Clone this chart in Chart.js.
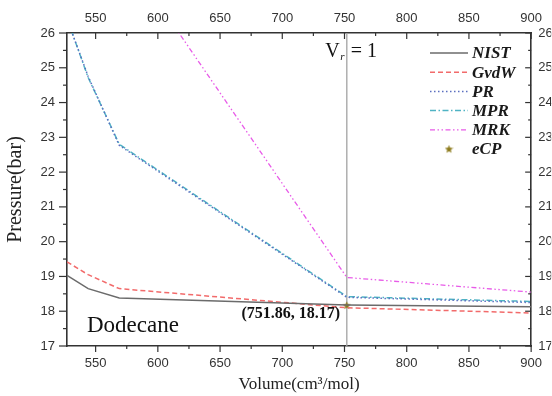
<!DOCTYPE html>
<html>
<head>
<meta charset="utf-8">
<script src="https://cdn.jsdelivr.net/npm/chart.js@4/dist/chart.umd.min.js"></script>
<style>
  html, body { margin: 0; padding: 0; background: #fff; }
  #wrap { width: 552px; height: 396px; position: relative; }
</style>
</head>
<body>
<div id="wrap"><canvas id="pvChart"></canvas></div>
<script>
// tick labels
const xTicks = [550, 600, 650, 700, 750, 800, 850, 900];
const yTicks = [17, 18, 19, 20, 21, 22, 23, 24, 25, 26];

// series (volume in cm3/mol, pressure in bar)
const nistV = [527, 544, 569, 751.86, 900];
const nistP = [19.03, 18.65, 18.38, 18.18, 18.13];
const gvdwV = [527, 544, 569, 751.86, 900];
const gvdwP = [19.42, 19.05, 18.65, 18.10, 17.95];
const prV = [527, 544, 569, 751.86, 900];
const prP = [26.4, 24.75, 22.77, 18.40, 18.25];
const mprV = [527, 544, 569, 751.86, 900];
const mprP = [26.42, 24.72, 22.80, 18.42, 18.28];
const mrkV = [569, 751.86, 900];
const mrkP = [28.5, 18.97, 18.55];
const ecpV = [751.86];
const ecpP = [18.17];
const vrOne = 751.86;

const pts = (v, p) => v.map((x, i) => ({ x: x, y: p[i] }));

// small filled star for the eCP marker
const starImg = document.createElement('canvas');
starImg.width = 9; starImg.height = 9;
(function () {
  const c = starImg.getContext('2d');
  c.fillStyle = '#8d7b1c';
  c.beginPath();
  for (let k = 0; k < 10; k++) {
    const r = k % 2 ? 1.9 : 4.4;
    const a = -Math.PI / 2 + k * Math.PI / 5;
    const px = 4.5 + r * Math.cos(a), py = 4.8 + r * Math.sin(a);
    k ? c.lineTo(px, py) : c.moveTo(px, py);
  }
  c.closePath();
  c.fill();
})();

const axisCol = '#333';
const tickFont = { family: 'Liberation Sans', size: 13 };

const tickMarks = {
  id: 'tickMarks',
  afterDraw(chart) {
    const { ctx, chartArea: a, scales } = chart;
    const mids = t => t.slice(0, -1).map((v, i) => (v + t[i + 1]) / 2);
    ctx.save();
    ctx.strokeStyle = axisCol;
    ctx.lineWidth = 1.2;
    const mark = (x1, y1, x2, y2) => { ctx.beginPath(); ctx.moveTo(x1, y1); ctx.lineTo(x2, y2); ctx.stroke(); };
    xTicks.forEach(v => {
      const x = scales.x.getPixelForValue(v);
      mark(x, a.bottom, x, a.bottom + 6);
      mark(x, a.top, x, a.top + 6);
    });
    mids(xTicks).forEach(v => {
      const x = scales.x.getPixelForValue(v);
      mark(x, a.bottom, x, a.bottom + 3);
      mark(x, a.top, x, a.top + 3);
    });
    yTicks.forEach(v => {
      const y = scales.y.getPixelForValue(v);
      mark(a.left - 8, y, a.left, y);
      mark(a.right - 6, y, a.right, y);
    });
    mids(yTicks).forEach(v => {
      const y = scales.y.getPixelForValue(v);
      mark(a.left - 4, y, a.left, y);
      mark(a.right - 3, y, a.right, y);
    });
    ctx.restore();
  }
};

const vrLine = {
  id: 'vrLine',
  beforeDatasetsDraw(chart) {
    const { ctx, chartArea: a, scales } = chart;
    const x = scales.x.getPixelForValue(vrOne);
    ctx.save();
    ctx.strokeStyle = '#a3a3a3';
    ctx.lineWidth = 1.3;
    ctx.beginPath(); ctx.moveTo(x, a.top); ctx.lineTo(x, a.bottom); ctx.stroke();
    ctx.fillStyle = '#111';
    ctx.textBaseline = 'alphabetic';
    ctx.font = '20px "Liberation Serif"';
    ctx.textAlign = 'right';
    ctx.fillText('V', x - 7, 57);
    ctx.font = 'italic 11px "Liberation Serif"';
    ctx.textAlign = 'left';
    ctx.fillText('r', x - 6.5, 60);
    ctx.font = '20px "Liberation Serif"';
    ctx.fillText('= 1', x + 4, 57);
    ctx.restore();
  }
};

const notes = {
  id: 'notes',
  afterDraw(chart) {
    const { ctx, scales } = chart;
    ctx.save();
    ctx.fillStyle = '#111';
    ctx.textBaseline = 'alphabetic';
    ctx.font = '23px "Liberation Serif"';
    ctx.textAlign = 'left';
    ctx.fillText('Dodecane', 87, 332);
    ctx.font = 'bold 16px "Liberation Serif"';
    ctx.textAlign = 'center';
    const cx = scales.x.getPixelForValue(ecpV[0]);
    const cy = scales.y.getPixelForValue(ecpP[0]);
    ctx.fillText('(' + ecpV[0] + ', ' + ecpP[0] + ')', cx - 56, cy + 13);

    // legend
    ctx.font = 'bold italic 17px "Liberation Serif"';
    ctx.textAlign = 'left';
    ctx.textBaseline = 'middle';
    chart.data.datasets.forEach((ds, i) => {
      const y = 53 + i * 19.2;
      if (ds.showLine === false) {
        ctx.drawImage(starImg, 449 - 4.5, y - 4.5);
      } else {
        ctx.strokeStyle = ds.borderColor;
        ctx.lineWidth = ds.borderWidth;
        ctx.setLineDash(ds.borderDash || []);
        ctx.beginPath(); ctx.moveTo(430, y); ctx.lineTo(468, y); ctx.stroke();
        ctx.setLineDash([]);
      }
      ctx.fillStyle = '#1a1a1a';
      ctx.fillText(ds.label, 472, y + 1);
    });
    ctx.restore();
  }
};

const lineDs = (label, v, p, color, dash, width) => ({
  label: label,
  data: pts(v, p),
  borderColor: color,
  backgroundColor: color,
  borderDash: dash,
  borderWidth: width,
  pointRadius: 0,
  tension: 0,
  fill: false,
  xAxisID: 'x',
  yAxisID: 'y'
});

const setTicks = list => s => { s.ticks = list.map(v => ({ value: v })); };
const noGrid = { display: false, drawTicks: false };

new Chart(document.getElementById('pvChart'), {
  type: 'line',
  data: {
    datasets: [
      lineDs('NIST', nistV, nistP, '#6b6b6b', [], 1.5),
      lineDs('GvdW', gvdwV, gvdwP, '#f26b6b', [5, 3], 1.5),
      lineDs('PR', prV, prP, '#5b6fc0', [1.5, 2.5], 1.5),
      lineDs('MPR', mprV, mprP, '#4fb3c4', [6, 2.5, 1.5, 2.5], 1.5),
      lineDs('MRK', mrkV, mrkP, '#e85be8', [5, 2.5, 1.5, 2.5, 1.5, 2.5], 1.3),
      {
        label: 'eCP',
        data: pts(ecpV, ecpP),
        showLine: false,
        pointStyle: starImg,
        pointRadius: 4,
        xAxisID: 'x',
        yAxisID: 'y'
      }
    ]
  },
  options: {
    responsive: true,
    maintainAspectRatio: false,
    animation: false,
    devicePixelRatio: 1,
    layout: { padding: 0 },
    plugins: { legend: { display: false }, tooltip: { enabled: false } },
    scales: {
      x: {
        type: 'linear', position: 'bottom', min: 527, max: 900,
        afterBuildTicks: setTicks(xTicks),
        afterFit: s => { s.height = 50; },
        grid: noGrid,
        border: { display: true, color: axisCol, width: 1.6 },
        ticks: { font: tickFont, color: '#333', padding: 10, maxRotation: 0, autoSkip: false },
        title: { display: true, text: 'Volume(cm³/mol)', color: '#222',
                 font: { family: 'Liberation Serif', size: 17 }, padding: { top: 0, bottom: 1 } }
      },
      x2: {
        type: 'linear', position: 'top', min: 527, max: 900,
        afterBuildTicks: setTicks(xTicks),
        afterFit: s => { s.height = 33; },
        grid: noGrid,
        border: { display: true, color: axisCol, width: 1.6 },
        ticks: { font: tickFont, color: '#333', padding: 7, maxRotation: 0, autoSkip: false }
      },
      y: {
        type: 'linear', position: 'left', min: 17, max: 26,
        afterBuildTicks: setTicks(yTicks),
        afterFit: s => { s.width = 67; },
        grid: noGrid,
        border: { display: true, color: axisCol, width: 1.6 },
        ticks: { font: tickFont, color: '#333', padding: 12, autoSkip: false },
        title: { display: true, text: 'Pressure(bar)', color: '#222',
                 font: { family: 'Liberation Serif', size: 20 }, padding: { top: 4, bottom: 0 } }
      },
      y2: {
        type: 'linear', position: 'right', min: 17, max: 26,
        afterBuildTicks: setTicks(yTicks),
        afterFit: s => { s.width = 20; },
        grid: noGrid,
        border: { display: true, color: axisCol, width: 1.6 },
        ticks: { font: tickFont, color: '#333', padding: 7, autoSkip: false }
      }
    }
  },
  plugins: [vrLine, tickMarks, notes]
});
</script>
</body>
</html>
